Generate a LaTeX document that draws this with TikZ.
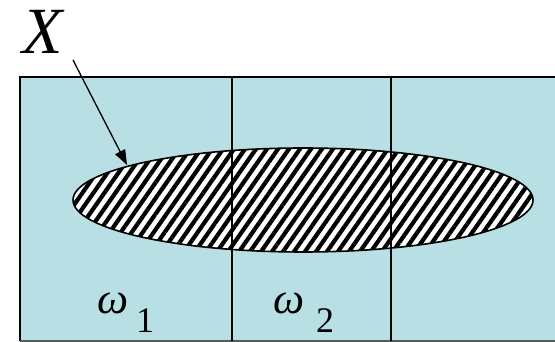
\documentclass[tikz,border=0pt]{standalone}
\usepackage{fontspec}
\newfontfamily\tnr{Liberation Serif}
\usetikzlibrary{arrows.meta,patterns.meta,shapes.geometric}
\definecolor{cellfill}{HTML}{B8DFE3}
\tikzset{
  divider/.style={draw=black,line width=1.2pt},
  hatched/.style={ellipse,draw=black,line width=1.6pt,
    preaction={fill=white},
    pattern={Lines[angle=55,distance=9pt,line width=4.2pt]},pattern color=black,
    minimum width=460pt,minimum height=104pt,inner sep=0pt},
  lbl/.style={font=\tnr\itshape\fontsize{44}{48}\selectfont,inner sep=0pt},
  sub/.style={font=\tnr\fontsize{36}{40}\selectfont,inner sep=0pt},
  pointer/.style={draw=black,line width=1.3pt,-{Triangle[length=15pt,width=11pt]}}
}
\begin{document}
\begin{tikzpicture}[x=1pt,y=-1pt]
\useasboundingbox (0,0) rectangle (555,342);
\clip (0,0) rectangle (555,342);
\fill[cellfill] (20,77) rectangle (570,341);
\draw[line width=1.3pt] (570,77) -- (20,77) -- (20,341);
\draw[line width=1.3pt,draw=gray!70!black] (20,341) -- (570,341);
\coordinate (d1t) at (232,77);
\coordinate (d1b) at (232,341);
\coordinate (d2t) at (391,77);
\coordinate (d2b) at (391,341);
\node[hatched] (Xset) at (303,200) {};
\draw[divider] (d1t) -- (d1b);
\draw[divider] (d2t) -- (d2b);
\node[font=\tnr\itshape\fontsize{66}{70}\selectfont,inner sep=0pt,anchor=base] (xl) at (43,54) {X};
\coordinate (tail) at (73,60);
\coordinate (tip) at (127,165);
\draw[pointer] (tail) -- (tip);
\node[lbl,anchor=base] (w1) at (113,313) {ω};
\node[sub,anchor=base] (s1) at (145,332) {1};
\node[lbl,anchor=base] (w2) at (289,313) {ω};
\node[sub,anchor=base] (s2) at (325,332) {2};
\end{tikzpicture}
\end{document}
